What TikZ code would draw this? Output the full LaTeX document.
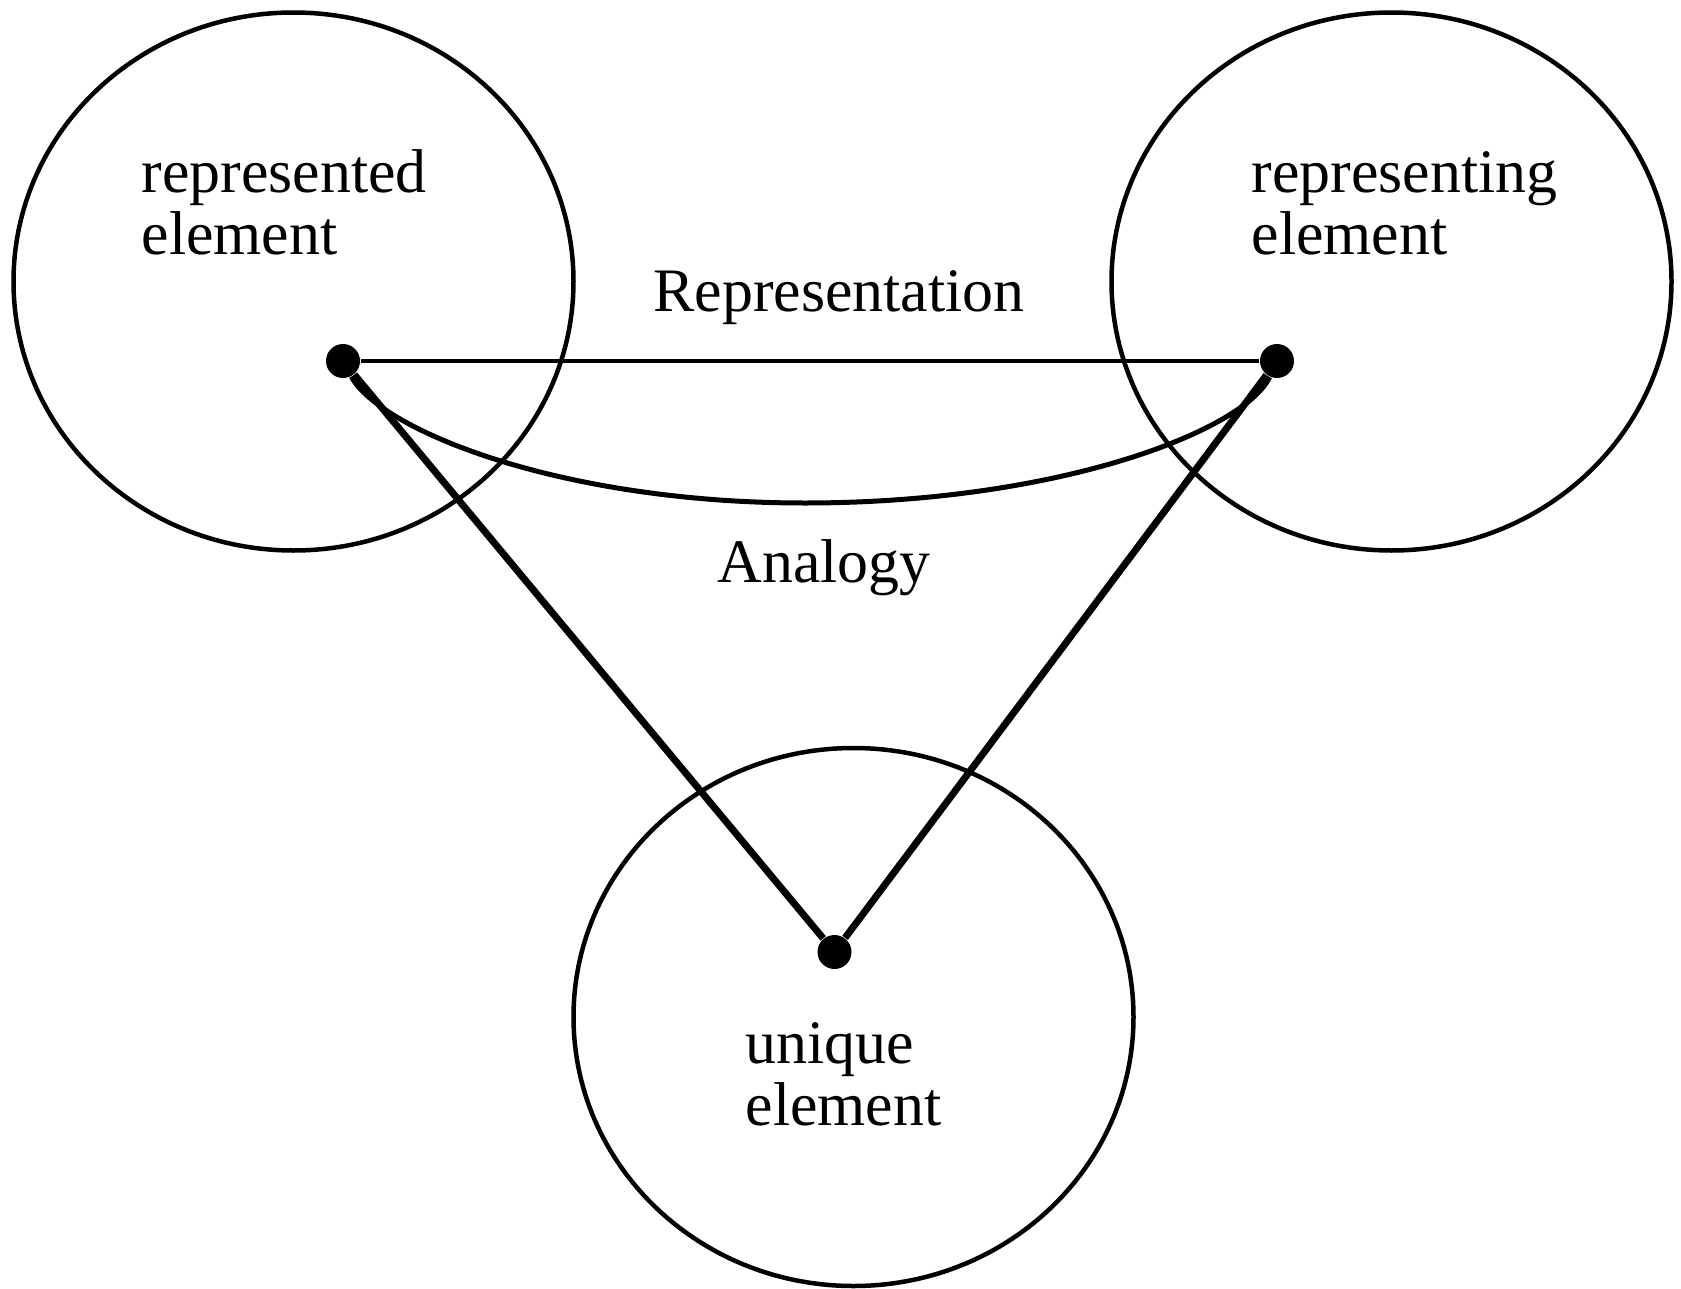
\documentclass[tikz,border=0pt]{standalone}
\usepackage{fontspec}
\setmainfont{Liberation Serif}
\usetikzlibrary{shapes.geometric}

\begin{document}
\begin{tikzpicture}[
    x=0.1mm, y=-0.1mm,
    region/.style={draw, ellipse, line width=0.45mm, inner sep=0pt,
                   minimum width=56mm, minimum height=53.8mm},
    elem/.style={circle, fill, inner sep=0pt, minimum size=3.4mm},
    word/.style={font=\fontsize{17.6pt}{17.6pt}\selectfont, inner sep=0pt, align=left},
    rel/.style={line width=0.45mm},
    link/.style={line width=0.7mm},
    tie/.style={line width=0.5mm}
  ]
    \useasboundingbox (0,0) rectangle (1681,1289);
    % the three sets
    \node[region] (srcset) at (293.5,281.5) {};
    \node[region] (repset) at (1391.5,281.5) {};
    \node[region] (uniset) at (853.5,1017) {};
    \node[word, anchor=base west] (srclab) at (141,254) {represented\\element};
    \node[word, anchor=base west] (replab) at (1251,254) {representing\\element};
    \node[word, anchor=base west] (unilab) at (745,1125) {unique\\element};
    % elements
    \node[elem] (src) at (343,361) {};
    \node[elem] (rep) at (1277,361) {};
    \node[elem] (uni) at (834.5,952) {};
    \coordinate (low) at (805,503);
    \draw[rel] (src) -- (rep);
    \draw[link] (src) -- (uni);
    \draw[link] (rep) -- (uni);
    \draw[tie] (src) .. controls (380,430) and (560,503) .. (low)
               .. controls (1060,503) and (1245,430) .. (rep);
    \node[word, anchor=base] (replink) at (839,311) {Representation};
    \node[word, anchor=base] (analink) at (824,582) {Analogy};
  \end{tikzpicture}
\end{document}
